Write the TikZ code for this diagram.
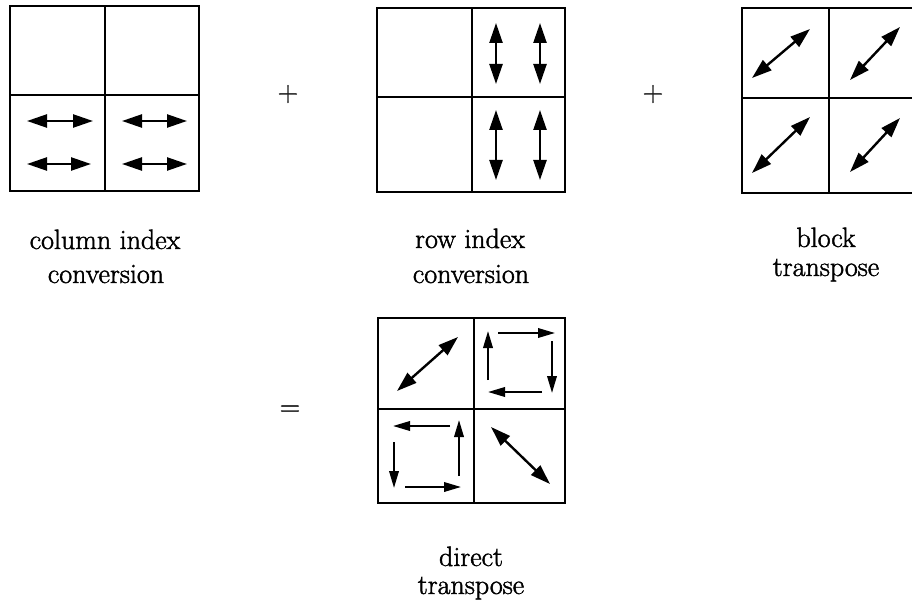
\documentclass[tikz,border=0pt]{standalone}
\usepackage{fontspec}
\newfontfamily\lblfont{Latin Modern Roman}[FakeBold=1.6]
\usetikzlibrary{arrows.meta}
\begin{document}
\begin{tikzpicture}[x=1pt,y=-1pt,
  frame/.style={line width=2.4pt},
  dbl/.style={line width=2.4pt,{Triangle[length=20pt,width=13pt]}-{Triangle[length=20pt,width=13pt]}},
  sgl/.style={line width=2pt,-{Triangle[length=17pt,width=9.5pt]}},
  lbl/.style={anchor=base,inner sep=0pt,font=\lblfont\fontsize{28}{34}\selectfont},
  op/.style={anchor=base,inner sep=0pt,font=\lblfont\fontsize{28}{34}\selectfont}]
\useasboundingbox (0,0) rectangle (912,604);
\clip (0,0) rectangle (912,604);
% box 1
\draw[frame] (10,6) rectangle (199,191);
\draw[frame] (105,6) -- (105,191) (10,95) -- (199,95);
\coordinate (a1) at (27,121); \coordinate (b1) at (93,121);
\coordinate (a2) at (27,164); \coordinate (b2) at (91,164);
\coordinate (a3) at (122,121); \coordinate (b3) at (187,121);
\coordinate (a4) at (122,164); \coordinate (b4) at (187,164);
\draw[dbl] (a1) -- (b1); \draw[dbl] (a2) -- (b2);
\draw[dbl] (a3) -- (b3); \draw[dbl] (a4) -- (b4);
% box 2
\draw[frame] (377,8) rectangle (565,192);
\draw[frame] (472,8) -- (472,192) (377,97) -- (565,97);
\coordinate (c1) at (496,23); \coordinate (d1) at (496,84);
\coordinate (c2) at (540,23); \coordinate (d2) at (540,84);
\coordinate (c3) at (496,110); \coordinate (d3) at (496,180);
\coordinate (c4) at (540,110); \coordinate (d4) at (540,180);
\draw[dbl] (c1) -- (d1); \draw[dbl] (c2) -- (d2);
\draw[dbl] (c3) -- (d3); \draw[dbl] (c4) -- (d4);
% box 3
\draw[frame] (742,8) rectangle (929,193);
\draw[frame] (829,8) -- (829,193) (742,98) -- (929,98);
\coordinate (e1) at (752,78); \coordinate (f1) at (810,29);
\coordinate (e2) at (850,80); \coordinate (f2) at (900,27);
\coordinate (e3) at (752,173); \coordinate (f3) at (810,117);
\coordinate (e4) at (850,172); \coordinate (f4) at (900,118);
\draw[dbl] (e1) -- (f1); \draw[dbl] (e2) -- (f2);
\draw[dbl] (e3) -- (f3); \draw[dbl] (e4) -- (f4);
% box 4
\draw[frame] (378,318) rectangle (565,503);
\draw[frame] (474,318) -- (474,503) (378,409) -- (565,409);
\coordinate (g1) at (397,391); \coordinate (h1) at (458,337);
\draw[dbl] (g1) -- (h1);
\coordinate (g2) at (491,427); \coordinate (h2) at (550,484);
\draw[dbl] (g2) -- (h2);
% top-right cycle
\coordinate (p1) at (498,333); \coordinate (p2) at (555,333);
\coordinate (p3) at (552,341); \coordinate (p4) at (552,393);
\coordinate (p5) at (542,392); \coordinate (p6) at (488,392);
\coordinate (p7) at (488,380); \coordinate (p8) at (488,331);
\draw[sgl] (p1) -- (p2); \draw[sgl] (p3) -- (p4);
\draw[sgl] (p5) -- (p6); \draw[sgl] (p7) -- (p8);
% bottom-left cycle
\coordinate (q1) at (450,426); \coordinate (q2) at (393,426);
\coordinate (q3) at (394,442); \coordinate (q4) at (394,488);
\coordinate (q5) at (405,487); \coordinate (q6) at (461,487);
\coordinate (q7) at (459,476); \coordinate (q8) at (459,420);
\draw[sgl] (q1) -- (q2); \draw[sgl] (q3) -- (q4);
\draw[sgl] (q5) -- (q6); \draw[sgl] (q7) -- (q8);
% operators
\node[op] (plus1) at (288,101) {+};
\node[op] (plus2) at (653,101) {+};
\node[op] (eq) at (290,415.5) {=};
% labels
\node[lbl] (l1a) at (105,249) {column index};
\node[lbl] (l1b) at (106,283) {conversion};
\node[lbl] (l2a) at (470,248) {row index};
\node[lbl] (l2b) at (471,283) {conversion};
\node[lbl] (l3a) at (826,247) {block};
\node[lbl] (l3b) at (826,276) {transpose};
\node[lbl] (l4a) at (471,566) {direct};
\node[lbl] (l4b) at (471,594) {transpose};
\end{tikzpicture}
\end{document}
